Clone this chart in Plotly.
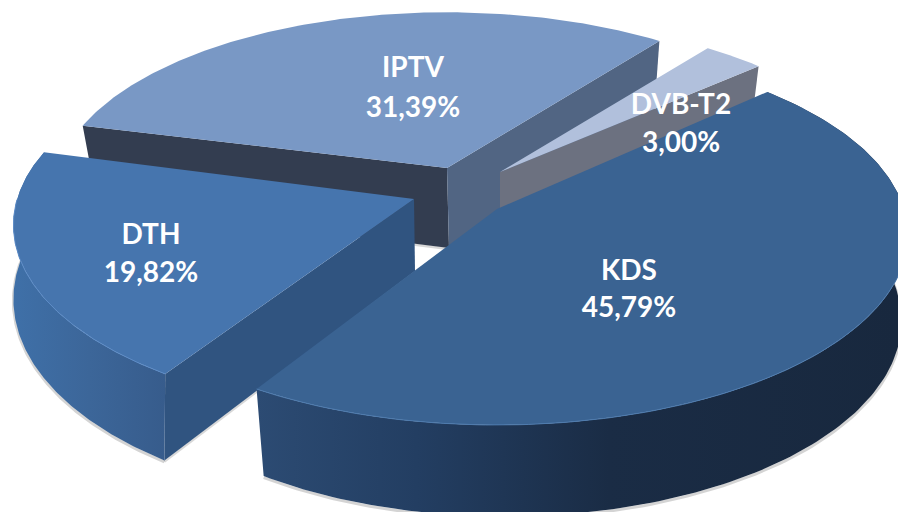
import numpy as np
import plotly.graph_objects as go

# ---- data ----
categories = ["KDS", "DTH", "IPTV", "DVB-T2"]
shares = [45.79, 19.82, 31.39, 3.00]
pct_labels = [f"{v:.2f}".replace(".", ",") + "%" for v in shares]

# ---- styling / geometry of the 3-D exploded pie ----
W, H = 898, 512
START = -43.4            # where the first slice begins (deg, clockwise on screen)
A, B, K = 407.0, 186.4, 0.137   # projective disc: half width, half height, perspective
apex = [(497, 209), (414, 199), (447, 168), (500, 172)]
scale_x = [1.0, 0.975, 0.955, 0.935]
scale_y = [1.0, 1.0, 0.95, 0.925]
rotate = [0.0, 2.3, 1.5, 1.3]
depth = [85, 72, 80, 78]
bottom_dx = [8, 6, 2, 0]
apex_bottom_dx = [8, 1, 2, 0]
bottom_kx = [0.965, 1.015, 0.965, 0.965]
bottom_ky = [1.03, 1.09, 1.04, 1.04]
bottom_rot = [1.5, 0.5, 0.0, 0.0]
top_color = ["#3A6392", "#4675AE", "#7998C5", "#B1C0DC"]
rim_color = ["#4E7BAE", "#5C8BC6", "#8FABD3", "#C3CFE5"]
start_wall = [None, "#305480", "#333D50", None]
end_wall = [None, None, "#516583", "#6C7180"]
outer_wall = [
    [[0, "#2C4B73"], [0.25, "#233E62"], [0.55, "#1A2C45"], [1, "#18283E"]],
    [[0, "#3F70A8"], [0.5, "#3C6699"], [1, "#375C8C"]],
    None,
    None,
]
label_xy = [(629, 273, 310), (151, 237, 275), (413, 70, 110), (681, 107, 145)]


def project(a0, u, v, sx, sy, kx=1.0, ky=1.0, dx=0, dy=0):
    d = 1 - K * v
    return a0[0] + dx + A * sx * kx * u / d, a0[1] + dy + B * sy * ky * v / d


fig = go.Figure()


def poly(x, y, color=None, grad=None, xr=None):
    kw = dict(x=list(x), y=list(y), mode="lines", fill="toself", line=dict(width=0),
              hoverinfo="skip", showlegend=False)
    if grad is not None:
        kw["fillgradient"] = dict(type="horizontal", colorscale=grad, start=xr[0], stop=xr[1])
    else:
        kw["fillcolor"] = color
    fig.add_trace(go.Scatter(**kw))


def line(x, y, color, width):
    fig.add_trace(go.Scatter(x=list(x), y=list(y), mode="lines", line=dict(color=color, width=width),
                             hoverinfo="skip", showlegend=False))


spans = np.array(shares) / sum(shares) * 360
starts = START + np.concatenate([[0], np.cumsum(spans)[:-1]])

for i in [2, 3, 1, 0]:  # back to front
    deg = np.linspace(starts[i], starts[i] + spans[i], 160) + rotate[i]
    t = np.radians(deg)
    u, v = np.cos(t), np.sin(t)
    tx, ty = project(apex[i], u, v, scale_x[i], scale_y[i])
    tb = np.radians(deg + bottom_rot[i])
    bx, by = project(apex[i], np.cos(tb), np.sin(tb), scale_x[i], scale_y[i],
                     bottom_kx[i], bottom_ky[i], bottom_dx[i], depth[i])
    ax, ay = apex[i]
    abx, aby = ax + apex_bottom_dx[i], ay + depth[i]

    if outer_wall[i] is not None:
        line(bx, by + 1.5, "rgba(60,60,60,0.22)", 3)
        poly(np.r_[tx, bx[::-1]], np.r_[ty, by[::-1]], grad=outer_wall[i],
             xr=(min(tx.min(), bx.min()), min(max(tx.max(), bx.max()), W)))
    if start_wall[i] is not None:
        line([bx[0], abx], [by[0] + 1, aby + 1], "rgba(60,60,60,0.2)", 2.5)
        poly([ax, tx[0], bx[0], abx], [ay, ty[0], by[0], aby], start_wall[i])
    if end_wall[i] is not None:
        poly([ax, tx[-1], bx[-1], abx], [ay, ty[-1], by[-1], aby], end_wall[i])
    poly(np.r_[ax, tx], np.r_[ay, ty], top_color[i])
    if outer_wall[i] is not None:
        front = ty > ay
        line(tx[front], ty[front], rim_color[i], 1)

fig.add_trace(go.Scatter(
    x=[p[0] for p in label_xy] * 2,
    y=[p[1] for p in label_xy] + [p[2] for p in label_xy],
    text=categories + pct_labels,
    mode="text", textposition="middle center",
    textfont=dict(family="Lato", size=28, color="white", weight="bold"),
    hoverinfo="skip", showlegend=False,
))

fig.update_layout(
    width=W, height=H, margin=dict(l=0, r=0, t=0, b=0),
    paper_bgcolor="white", plot_bgcolor="white", showlegend=False,
    xaxis=dict(range=[0, W], visible=False, fixedrange=True),
    yaxis=dict(range=[H, 0], visible=False, fixedrange=True),
)
fig.write_html("out.html", config={"displayModeBar": False},
               post_script="document.body.style.margin='0';")
